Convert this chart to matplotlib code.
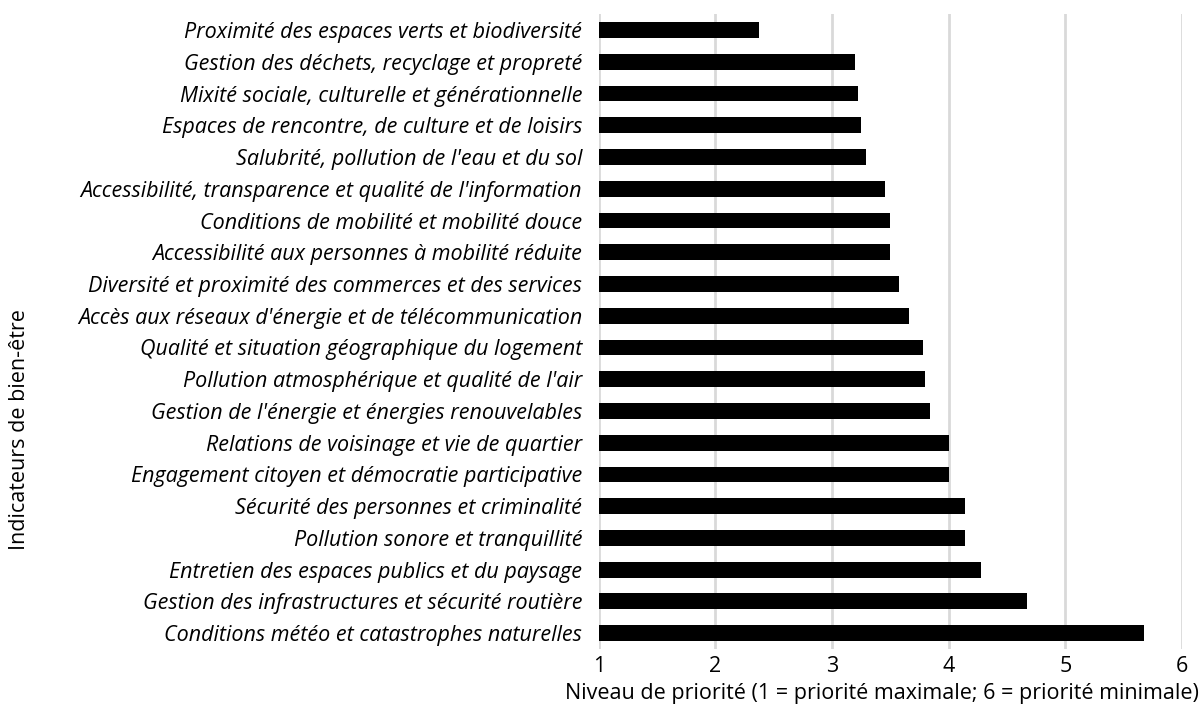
import matplotlib
matplotlib.use("Agg")
import matplotlib.pyplot as plt

categories = [
    "Proximité des espaces verts et biodiversité",
    "Gestion des déchets, recyclage et propreté",
    "Mixité sociale, culturelle et générationnelle",
    "Espaces de rencontre, de culture et de loisirs",
    "Salubrité, pollution de l'eau et du sol",
    "Accessibilité, transparence et qualité de l'information",
    "Conditions de mobilité et mobilité douce",
    "Accessibilité aux personnes à mobilité réduite",
    "Diversité et proximité des commerces et des services",
    "Accès aux réseaux d'énergie et de télécommunication",
    "Qualité et situation géographique du logement",
    "Pollution atmosphérique et qualité de l'air",
    "Gestion de l'énergie et énergies renouvelables",
    "Relations de voisinage et vie de quartier",
    "Engagement citoyen et démocratie participative",
    "Sécurité des personnes et criminalité",
    "Pollution sonore et tranquillité",
    "Entretien des espaces publics et du paysage",
    "Gestion des infrastructures et sécurité routière",
    "Conditions météo et catastrophes naturelles",
]
priority = [2.37, 3.20, 3.22, 3.25, 3.29, 3.45, 3.50, 3.50, 3.57, 3.66,
            3.78, 3.80, 3.84, 4.00, 4.00, 4.14, 4.14, 4.28, 4.67, 5.67]
xticks = [1, 2, 3, 4, 5, 6]

plt.rcParams['font.family'] = ['Open Sans', 'DejaVu Sans']

fig = plt.figure(figsize=(12, 7.09), dpi=100)
ax = fig.add_axes([0.499, 0.0846, 0.486, 0.8954])

base = 1
ypos = list(range(len(categories)))
ax.barh(ypos, [v - base for v in priority], left=base, height=0.5,
        color='black', zorder=3)

ax.set_xlim(1, 6)
ax.set_ylim(len(categories) - 0.5, -0.5)
ax.set_xticks(xticks)
ax.set_xticklabels([str(t) for t in xticks], fontsize=15.5)
ax.set_yticks(ypos)
ax.set_yticklabels(categories, fontsize=15.5, style='italic')
ax.tick_params(axis='both', length=0, pad=12)
ax.tick_params(axis='x', pad=5)
ax.grid(axis='x', color='#d9d9d9', linewidth=2, zorder=0)
for s in ax.spines.values():
    s.set_visible(False)

fig.text(882 / 1200, 1 - 693 / 709,
         "Niveau de priorité (1 = priorité maximale; 6 = priorité minimale)",
         ha='center', va='center', fontsize=15.5)
fig.text(20 / 1200, 1 - 430 / 709, "Indicateurs de bien-être",
         rotation=90, ha='center', va='center', fontsize=15.5)

fig.savefig("out.png", dpi=100)
